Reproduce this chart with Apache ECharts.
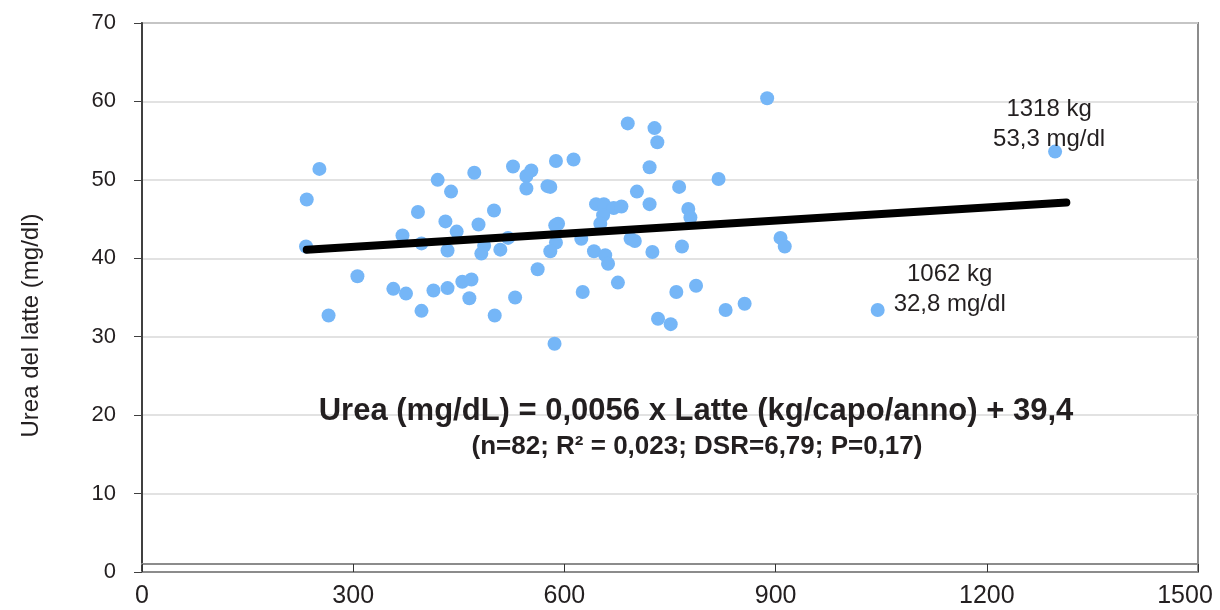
<!DOCTYPE html>
<html>
<head>
<meta charset="utf-8">
<script src="https://cdn.jsdelivr.net/npm/echarts@6/dist/echarts.min.js"></script>
<style>
html,body{margin:0;padding:0;background:#fff;}
#chart{width:1220px;height:610px;}
</style>
</head>
<body>
<div id="chart"></div>
<script>
// Latte (kg/capo/anno) and Urea (mg/dl)
const milkKg = [252,234,233,306,265,357,375,397,392,370,397,414,434,420,439,431,447,434,472,478,500,486,482,455,468,465,501,509,520,527,546,553,546,562,530,
  888,690,728,732,588,613,721,819,576,580,703,763,645,656,670,681,721,776,779,655,651,591,587,624,694,700,588,580,642,658,662,725,767,907,913,626,676,759,787,829,856,733,751,586];
const ureaMg = [51.4,47.5,41.5,37.7,32.7,36.1,35.5,33.3,45.9,42.9,41.9,35.9,36.2,50.0,48.5,44.7,43.4,41.0,50.9,44.3,46.1,41.6,40.6,37.0,37.3,34.9,32.7,41.1,42.6,51.7,50.5,51.2,48.9,38.6,35.0,
  60.4,57.2,56.6,54.8,52.4,52.6,51.6,50.1,49.2,49.1,48.5,49.1,46.9,46.9,46.4,46.6,46.9,46.3,45.2,45.5,44.4,44.4,44.2,42.5,42.5,42.2,42.0,40.9,40.9,40.4,39.3,40.8,41.5,42.6,41.5,35.7,36.9,35.7,36.5,33.4,34.2,32.3,31.6,29.1];
const outlierKg = [1297, 1045];
const outlierUrea = [53.6, 33.4];
const outlierLabels = ['1318 kg\n53,3 mg/dl', '1062 kg\n32,8 mg/dl'];
const trendKg = [234, 1313];
const trendUrea = [41.1, 47.1];
const equationText = 'Urea (mg/dL) = 0,0056 x Latte (kg/capo/anno) + 39,4';
const statsText = '(n=82; R\u00b2 = 0,023; DSR=6,79; P=0,17)';
const yAxisTitle = 'Urea del latte (mg/dl)';

const font = '"Liberation Sans", Arial, sans-serif';
const txt = '#231f20';
const outlierOffsets = [[-6, -27], [72, -21]];

const chart = echarts.init(document.getElementById('chart'), null, {renderer: 'canvas'});
chart.setOption({
  animation: false,
  backgroundColor: '#ffffff',
  grid: {left: 142, right: 22, top: 23, bottom: 38, containLabel: false, outerBoundsMode: 'none',
    show: true, borderColor: '#8c8c8c', borderWidth: 2, backgroundColor: 'transparent'},
  xAxis: [{
    type: 'value', min: 0, max: 1500, interval: 300,
    axisLine: {show: true, onZero: false, lineStyle: {color: '#8c8c8c', width: 2}},
    axisTick: {show: true, inside: true, length: 8, lineStyle: {color: '#333', width: 1}},
    axisLabel: {fontFamily: font, fontSize: 25, color: txt, margin: 12,
      formatter: v => (v === 1500 ? '{last|' + v + '}' : String(v)),
      rich: {last: {fontFamily: font, fontSize: 25, color: txt, padding: [0, 26, 0, 0]}}},
    splitLine: {show: false}
  }, {
    type: 'value', min: 0, max: 1500, position: 'bottom', offset: -8,
    axisLine: {show: true, onZero: false, lineStyle: {color: '#8c8c8c', width: 2}},
    axisTick: {show: false}, axisLabel: {show: false}, splitLine: {show: false}
  }],
  yAxis: {
    type: 'value', min: 0, max: 70, interval: 10,
    name: yAxisTitle, nameLocation: 'middle', nameGap: 99, nameRotate: 90,
    nameTextStyle: {fontFamily: font, fontSize: 24, color: txt, padding: [0, 56, 0, 0]},
    axisLine: {show: true, lineStyle: {color: '#404040', width: 2}},
    axisTick: {show: true, inside: false, length: 8, lineStyle: {color: '#404040', width: 1}},
    axisLabel: {fontFamily: font, fontSize: 22, color: txt, margin: 26},
    splitLine: {show: true, lineStyle: {color: '#d9d9d9', width: 1.5}}
  },
  series: [{
    type: 'scatter', symbol: 'circle', symbolSize: 14,
    itemStyle: {color: '#75b6f7', opacity: 1},
    data: milkKg.map((v, i) => [v, ureaMg[i]]), z: 2
  }, {
    type: 'scatter', symbol: 'circle', symbolSize: 14,
    itemStyle: {color: '#75b6f7', opacity: 1},
    data: outlierKg.map((v, i) => ({
      value: [v, outlierUrea[i]],
      label: {show: true, position: 'inside', offset: outlierOffsets[i], formatter: outlierLabels[i],
        fontFamily: font, fontSize: 24, lineHeight: 30, color: txt, align: 'center', verticalAlign: 'middle'}
    })), z: 2
  }, {
    type: 'line', data: trendKg.map((v, i) => [v, trendUrea[i]]),
    symbol: 'none', lineStyle: {color: '#000', width: 8, cap: 'round'}, z: 3
  }],
  graphic: [{
    type: 'text', x: 696, y: 411, z: 10,
    style: {text: equationText, font: 'bold 31px ' + font, fill: txt, align: 'center', verticalAlign: 'middle'}
  }, {
    type: 'text', x: 697, y: 447, z: 10,
    style: {text: statsText, font: 'bold 26px ' + font, fill: txt, align: 'center', verticalAlign: 'middle'}
  }]
});
</script>
</body>
</html>
